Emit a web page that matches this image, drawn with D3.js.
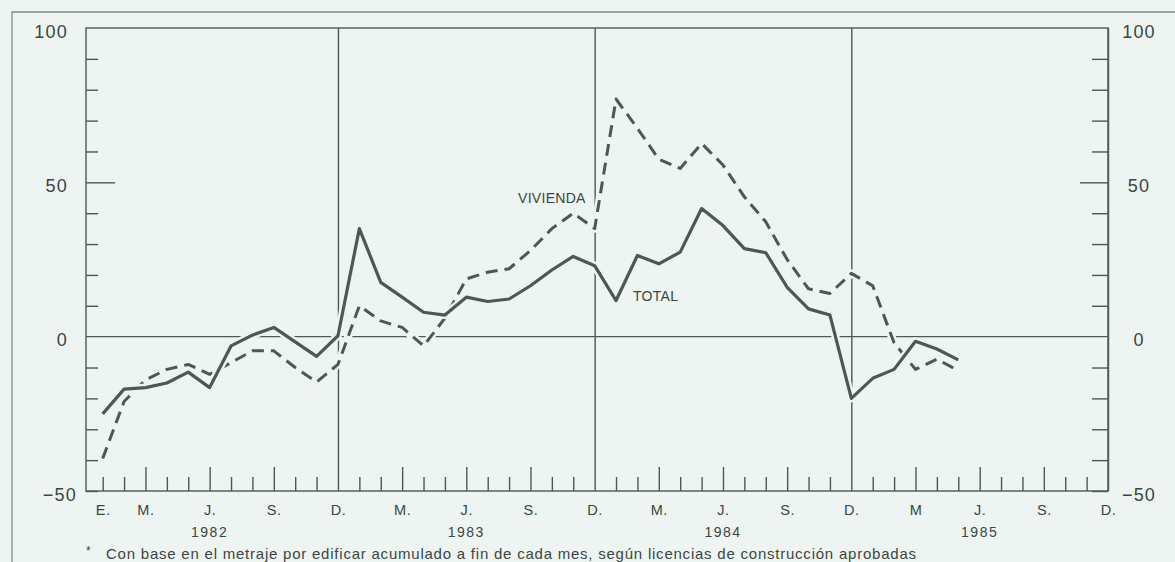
<!DOCTYPE html>
<html><head><meta charset="utf-8">
<script src="https://cdn.jsdelivr.net/npm/d3@7/dist/d3.min.js"></script>
<style>
html,body{margin:0;padding:0;background:#eef4f1;}
svg{display:block;}
text{font-family:"Liberation Sans",Arial,Helvetica,sans-serif;fill:#3b4643;}
</style></head>
<body><svg id="chart" width="1175" height="562"></svg>
<script>
// Monthly periods, Jan 1982 – May 1985
const periods = [
  "1982-01","1982-02","1982-03","1982-04","1982-05","1982-06","1982-07","1982-08","1982-09","1982-10","1982-11","1982-12",
  "1983-01","1983-02","1983-03","1983-04","1983-05","1983-06","1983-07","1983-08","1983-09","1983-10","1983-11","1983-12",
  "1984-01","1984-02","1984-03","1984-04","1984-05","1984-06","1984-07","1984-08","1984-09","1984-10","1984-11","1984-12",
  "1985-01","1985-02","1985-03","1985-04","1985-05"
];
const total = [
  -25, -17, -16.5, -15, -11.5, -16.5, -3, 0.5, 3, -1.7, -6.4, 0.3,
  35, 17.6, 12.8, 7.9, 7, 12.8, 11.4, 12.2, 16.5, 21.6, 26, 23,
  11.7, 26.3, 23.6, 27.4, 41.5, 36, 28.5, 27.2, 16, 9, 7, -20,
  -13.5, -10.6, -1.5, -4, -7.5
];
const vivienda = [
  -39.5, -21, -14, -10.6, -9, -12.2, -8.4, -4.6, -4.6, -10, -14.7, -9,
  10, 5.1, 3, -3, 6, 18.7, 20.9, 22, 27.9, 35, 40, 35,
  77, 67.5, 57.5, 54.5, 62.6, 55.6, 45.3, 37.2, 25, 15.5, 14, 20.5,
  16.5, -2, -10.6, -7.3, -11
];
const seriesNames = ["TOTAL", "VIVIENDA"];
const yLabelTicks = [-50, 0, 50, 100];
const yAllTicks = [-50,-40,-30,-20,-10,0,10,20,30,40,50,60,70,80,90,100];
const monthLabelIdx = [0,2,5,8,11,14,17,20,23,26,29,32,35,38,41,44,47];
const monthLabelText = ["E.","M.","J.","S.","D.","M.","J.","S.","D.","M.","J.","S.","D.","M","J.","S.","D."];
const years = ["1982","1983","1984","1985"];
const yearIdx = [5,17,29,41];
const footnote = "Con base en el metraje por edificar acumulado a fin de cada mes, según licencias de construcción aprobadas";

const ink = "#4a5955";
const frame = "#7f8b87";
const bg = "#eef4f1";

const svg = d3.select("#chart");
const L = 86, R = 1108, T = 28, B = 491;
const monthIndex = p => { const [y,m] = p.split("-").map(Number); return (y-1982)*12 + (m-1); };
const x = d3.scaleLinear().domain([-0.78, 47]).range([L, R]);
const y = d3.scaleLinear().domain([-50, 100]).range([B, T]);

// outer frame
svg.append("path").attr("d", `M12,575V12H1190`).attr("fill","none").attr("stroke",frame).attr("stroke-width",1.3);

// plot box
svg.append("rect").attr("x",L).attr("y",T).attr("width",R-L).attr("height",B-T)
  .attr("fill","none").attr("stroke",ink).attr("stroke-width",1.4);

// zero line
svg.append("line").attr("x1",L).attr("x2",R).attr("y1",y(0)).attr("y2",y(0))
  .attr("stroke",ink).attr("stroke-width",1.3);

// x axis
const allMonths = d3.range(0, 48);
const xAxis = d3.axisBottom(x).tickValues(allMonths).tickSizeOuter(0).tickSizeInner(-14).tickPadding(14)
  .tickFormat(i => { const k = monthLabelIdx.indexOf(i); return k >= 0 ? monthLabelText[k] : ""; });
const gx = svg.append("g").attr("transform", `translate(0,${B})`).call(xAxis);
gx.select(".domain").remove();
gx.selectAll(".tick line").attr("stroke", ink).attr("stroke-width", 1.4)
  .attr("y2", i => (i % 12 === 11) ? -(B - T) : ((i % 3 === 2) ? -24 : -14));
gx.selectAll(".tick text").attr("font-size", 14.5).attr("letter-spacing", "0.6px").style("fill","#3b4643");

// year labels
svg.append("g").selectAll("text").data(years).join("text")
  .attr("x", (d,i) => x(yearIdx[i])).attr("y", 537)
  .attr("text-anchor","middle").attr("font-size",14).attr("letter-spacing","1.5px").text(d => d);

// y axis left
const yAxisL = d3.axisLeft(y).tickValues(yAllTicks).tickSizeOuter(0).tickSizeInner(-12).tickPadding(18)
  .tickFormat(v => yLabelTicks.includes(v) ? (v < 0 ? "\u221250" : String(v)) : "");
const gl = svg.append("g").attr("transform", `translate(${L},0)`).call(yAxisL);
gl.select(".domain").remove();
gl.selectAll(".tick line").attr("stroke", ink).attr("stroke-width", 1.4)
  .attr("x2", v => v === 50 ? 29 : (v === 0 || v === 100 ? 0 : 12));
gl.selectAll(".tick text").attr("font-size", 18).attr("letter-spacing","1.2px")
  .attr("dy","0.5em").attr("dx", v => v < 0 ? 9 : 0).style("fill","#3b4643");

// y axis right
const yAxisR = d3.axisRight(y).tickValues(yAllTicks).tickSizeOuter(0).tickSizeInner(-16).tickPadding(31)
  .tickFormat(v => yLabelTicks.includes(v) ? (v < 0 ? "\u221250" : String(v)) : "");
const gr = svg.append("g").attr("transform", `translate(${R},0)`).call(yAxisR);
gr.select(".domain").remove();
gr.selectAll(".tick line").attr("stroke", ink).attr("stroke-width", 1.4)
  .attr("x2", v => v === 50 ? -28 : (v === 0 || v === 100 ? 0 : -16));
gr.selectAll(".tick text").attr("font-size", 18).attr("letter-spacing","1.2px")
  .attr("text-anchor","middle").attr("dy","0.5em").style("fill","#3b4643");

// series
const line = d3.line().x(d => x(d[0])).y(d => y(d[1]));
const viviendaPts = periods.map((p,i) => [monthIndex(p), vivienda[i]]);
const totalPts = periods.map((p,i) => [monthIndex(p), total[i]]);

svg.append("path").attr("d", line(viviendaPts)).attr("fill","none").attr("stroke",bg).attr("stroke-width",8).attr("stroke-linejoin","round");
svg.append("path").attr("d", line(viviendaPts)).attr("fill","none").attr("stroke",ink)
  .attr("stroke-width",3).attr("stroke-dasharray","12,7").attr("stroke-linejoin","round");
svg.append("path").attr("d", line(totalPts)).attr("fill","none").attr("stroke",bg).attr("stroke-width",8).attr("stroke-linejoin","round");
svg.append("path").attr("d", line(totalPts)).attr("fill","none").attr("stroke",ink)
  .attr("stroke-width",3.2).attr("stroke-linejoin","round");

// series labels
svg.append("text").attr("x",518).attr("y",203).attr("font-size",14).attr("letter-spacing","0.3px").text(seriesNames[1]);
svg.append("text").attr("x",633).attr("y",301).attr("font-size",14).attr("letter-spacing","0.3px").text(seriesNames[0]);

// footnote
svg.append("text").attr("x",86).attr("y",555).attr("font-size",12).text("*");
svg.append("text").attr("x",106).attr("y",559).attr("font-size",15)
  .attr("textLength",810).attr("lengthAdjust","spacing").text(footnote);
</script>
</body></html>
